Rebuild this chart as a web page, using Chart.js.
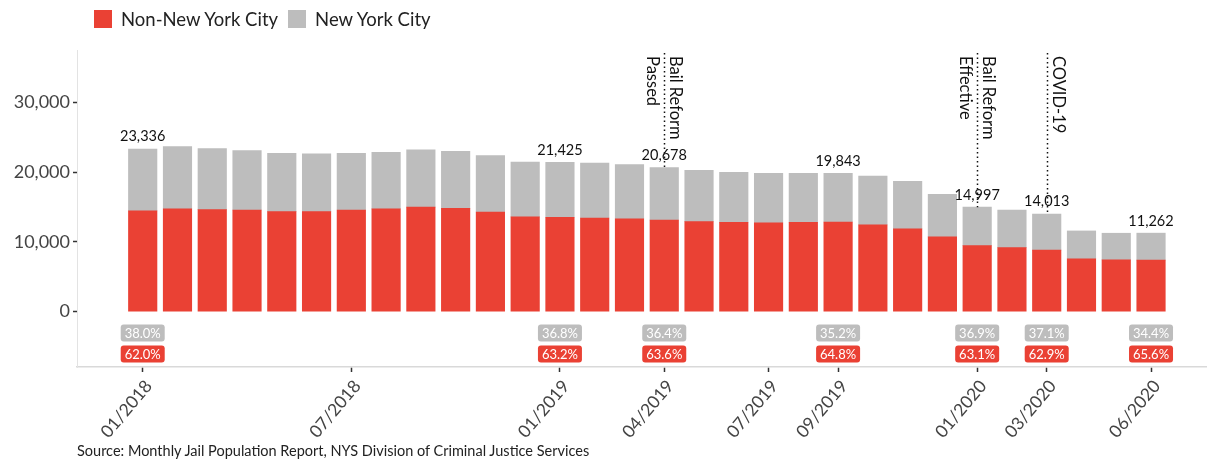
<!DOCTYPE html>
<html>
<head>
<meta charset="utf-8">
<script src="https://cdn.jsdelivr.net/npm/chart.js@4.4.1/dist/chart.umd.min.js"></script>
<style>
  html, body { margin: 0; padding: 0; background: #fff; }
  #wrap { position: relative; width: 1207px; height: 461px; font-family: Lato, 'Open Sans', sans-serif; }
  #legend { position: absolute; left: 94px; top: 8px; display: flex; align-items: center; font-size: 18.5px; color: #222; }
  #legend .sw { width: 18px; height: 18px; display: inline-block; margin-right: 9px; }
  #legend .item { display: flex; align-items: center; margin-right: 10px; }
  #source { position: absolute; left: 77px; top: 442px; font-size: 14.5px; color: #222; }
</style>
</head>
<body>
<div id="wrap">
  <canvas id="chart" width="1207" height="461"></canvas>
  <div id="legend"></div>
  <div id="source">Source: Monthly Jail Population Report, NYS Division of Criminal Justice Services</div>
</div>
<script>
const months = ['01/2018','02/2018','03/2018','04/2018','05/2018','06/2018','07/2018','08/2018','09/2018','10/2018','11/2018','12/2018',
  '01/2019','02/2019','03/2019','04/2019','05/2019','06/2019','07/2019','08/2019','09/2019','10/2019','11/2019','12/2019',
  '01/2020','02/2020','03/2020','04/2020','05/2020','06/2020'];
const nonNYC = [14468,14735,14640,14590,14350,14350,14590,14735,15000,14830,14300,13590,
  13541,13440,13300,13151,12910,12830,12730,12830,12858,12440,11870,10720,
  9463,9190,8814,7560,7420,7388];
const nyc = [8868,8935,8750,8510,8370,8280,8130,8135,8220,8180,8080,7890,
  7884,7890,7790,7527,7380,7170,7130,7030,6985,7030,6840,6120,
  5534,5400,5199,4020,3830,3874];
const tickIdx = [0,6,12,15,18,20,24,26,29];
const yTicks = [0,10000,20000,30000];
const labeledIdx = [0,12,15,20,24,26,29];
const nycPct = ['38.0%','36.8%','36.4%','35.2%','36.9%','37.1%','34.4%'];
const nonPct = ['62.0%','63.2%','63.6%','64.8%','63.1%','62.9%','65.6%'];
const events = [
  [15, ['Bail Reform','Passed']],
  [24, ['Bail Reform','Effective']],
  [26, ['COVID-19']]
];

const RED = '#EA4134';
const GREY = '#BDBDBD';
const FONT = 'Lato, "Open Sans", sans-serif';

// html legend
const legendEl = document.getElementById('legend');
[['Non-New York City', RED], ['New York City', GREY]].forEach(([name, col]) => {
  const it = document.createElement('span');
  it.className = 'item';
  it.innerHTML = '<span class="sw" style="background:' + col + '"></span>' + name;
  legendEl.appendChild(it);
});

const fmt = v => v.toLocaleString('en-US');

const overlay = {
  id: 'overlay',
  afterDatasetsDraw(chart) {
    const ctx = chart.ctx;
    const x = chart.scales.x, y = chart.scales.y;
    const zero = y.getPixelForValue(0);
    ctx.save();

    // event lines + rotated text
    events.forEach(([i, lines]) => {
      const px = Math.round(x.getPixelForValue(i)) + 0.5;
      const top = y.getPixelForValue(nonNYC[i] + nyc[i]);
      ctx.strokeStyle = '#111';
      ctx.lineWidth = 1.5;
      ctx.setLineDash([1.5, 3]);
      ctx.beginPath();
      ctx.moveTo(px, 53);
      ctx.lineTo(px, top);
      ctx.stroke();
      ctx.setLineDash([]);
      ctx.save();
      ctx.translate(px, 56);
      ctx.rotate(Math.PI / 2);
      ctx.fillStyle = '#111';
      ctx.font = '16.5px ' + FONT;
      ctx.textAlign = 'left';
      ctx.textBaseline = 'middle';
      ctx.fillText(lines[0], 0, -11);
      if (lines.length > 1) ctx.fillText(lines[1], 0, 12);
      ctx.restore();
    });

    // totals + share boxes
    labeledIdx.forEach((i, k) => {
      const cx = x.getPixelForValue(i);
      const total = nonNYC[i] + nyc[i];
      const top = y.getPixelForValue(total);
      ctx.fillStyle = '#111';
      ctx.font = '14.5px ' + FONT;
      ctx.textAlign = 'center';
      ctx.textBaseline = 'bottom';
      ctx.fillText(fmt(total), cx, top - 5);

      [[nycPct[k], GREY, 13], [nonPct[k], RED, 34]].forEach(([txt, col, off]) => {
        const bw = 44, bh = 17;
        const bx = cx - bw / 2, by = zero + off;
        ctx.fillStyle = col;
        ctx.beginPath();
        ctx.roundRect(bx, by, bw, bh, 3);
        ctx.fill();
        ctx.fillStyle = '#fff';
        ctx.font = '13px ' + FONT;
        ctx.textBaseline = 'middle';
        ctx.fillText(txt, cx, by + bh / 2 + 0.5);
      });
    });
    ctx.restore();
  }
};

new Chart(document.getElementById('chart'), {
  type: 'bar',
  data: {
    datasets: [
      { label: 'Non-New York City', data: nonNYC.map((v, i) => ({ x: i, y: v })), backgroundColor: RED, barThickness: 28.5 },
      { label: 'New York City', data: nyc.map((v, i) => ({ x: i, y: v })), backgroundColor: GREY, barThickness: 28.5 }
    ]
  },
  options: {
    responsive: false,
    animation: false,
    layout: { padding: { top: 50, left: 0, right: 0, bottom: 0 } },
    plugins: {
      legend: { display: false },
      tooltip: { enabled: false }
    },
    scales: {
      x: {
        type: 'linear',
        stacked: true,
        offset: false,
        min: -1.89,
        max: 30.61,
        afterBuildTicks: s => { s.ticks = tickIdx.map(v => ({ value: v })); },
        afterCalculateLabelRotation: s => { s.labelRotation = 50; },
        afterFit: s => { s.height = 94; },
        border: { display: true, color: '#d9d9d9', width: 1.5 },
        grid: { offset: false, drawOnChartArea: false, drawTicks: true, tickLength: 5, tickColor: '#333', tickWidth: 1.5 },
        ticks: {
          minRotation: 45, maxRotation: 45, autoSkip: false, padding: 4, labelOffset: 6,
          color: '#444', font: { family: FONT, size: 17.5 },
          callback: v => months[v]
        }
      },
      y: {
        stacked: true,
        min: -7950,
        max: 37550,
        afterBuildTicks: s => { s.ticks = yTicks.map(v => ({ value: v })); },
        afterFit: s => { s.width = 77; },
        border: { display: true, color: '#e3e3e3' },
        grid: { drawOnChartArea: false, drawTicks: true, tickLength: 4, tickColor: '#333', tickWidth: 1.5 },
        ticks: {
          color: '#444', font: { family: FONT, size: 18 }, padding: 3,
          callback: v => fmt(v)
        }
      }
    }
  },
  plugins: [overlay]
});
</script>
</body>
</html>
